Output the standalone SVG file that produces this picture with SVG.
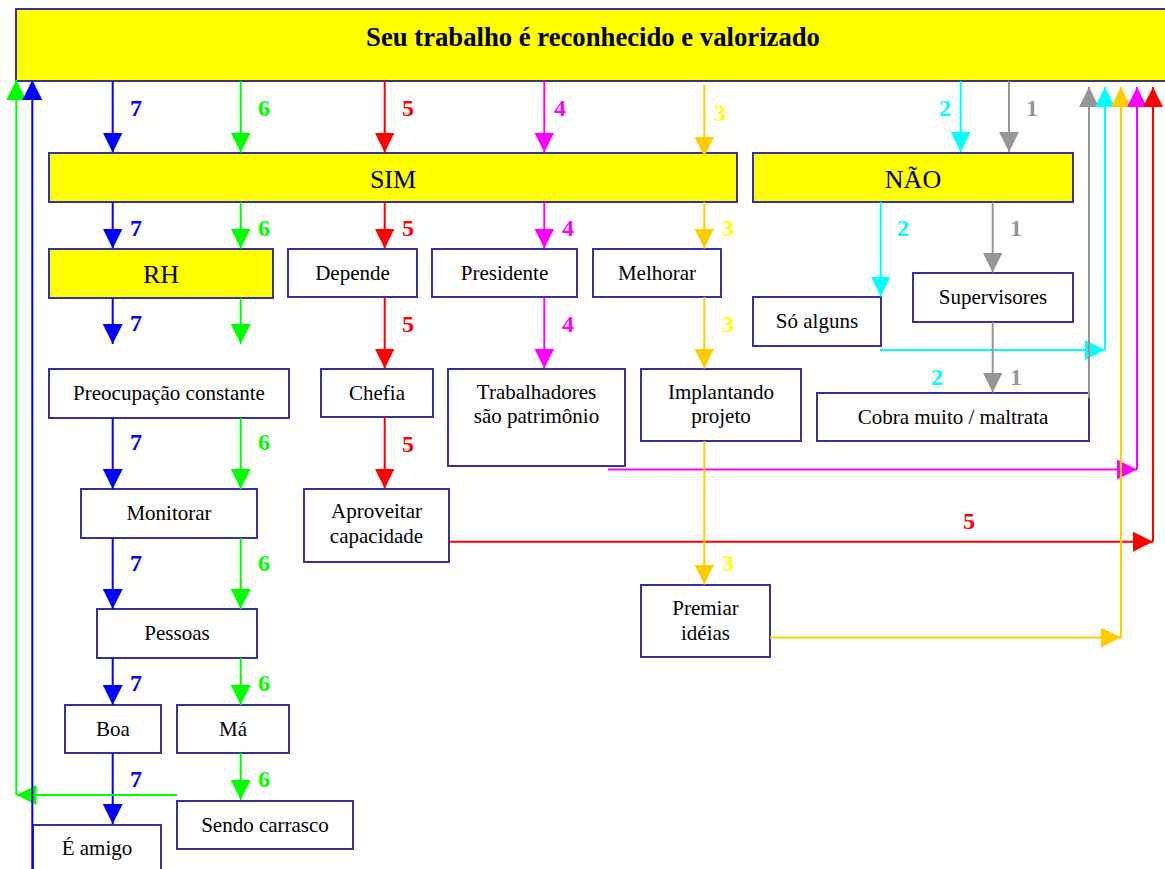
<svg xmlns="http://www.w3.org/2000/svg" width="1165" height="869" viewBox="0 0 1165 869">
  <style>
    .box { fill: #ffffff; stroke: #333399; stroke-width: 2; }
    .hl { fill: #ffff00; stroke: #333399; stroke-width: 2; }
    .t { font-family: "Liberation Serif", "Times New Roman", serif; font-size: 21px; fill: #000; text-anchor: middle; }
    .big { font-size: 26px; }
    .title { font-size: 26.7px; font-weight: bold; }
    .n { font-family: "Liberation Serif", "Times New Roman", serif; font-size: 24px; font-weight: bold; text-anchor: middle; }
    .c line, .c polyline { fill: none; stroke-width: 2; }
    .blue { stroke: #0000ff; } .green { stroke: #00ff00; } .red { stroke: #ff0000; }
    .mag { stroke: #ff00ff; } .orange { stroke: #ffcc00; } .cyan { stroke: #00ffff; } .gray { stroke: #969696; }
  </style>
  <defs>
    <marker id="aBlue" markerUnits="userSpaceOnUse" markerWidth="20" markerHeight="20" refX="20" refY="10" orient="auto"><path d="M0,0 L20,10 L0,20 Z" fill="#0000ff"/></marker>
    <marker id="aGreen" markerUnits="userSpaceOnUse" markerWidth="20" markerHeight="20" refX="20" refY="10" orient="auto"><path d="M0,0 L20,10 L0,20 Z" fill="#00ff00"/></marker>
    <marker id="aRed" markerUnits="userSpaceOnUse" markerWidth="20" markerHeight="20" refX="20" refY="10" orient="auto"><path d="M0,0 L20,10 L0,20 Z" fill="#ff0000"/></marker>
    <marker id="aMag" markerUnits="userSpaceOnUse" markerWidth="20" markerHeight="20" refX="20" refY="10" orient="auto"><path d="M0,0 L20,10 L0,20 Z" fill="#ff00ff"/></marker>
    <marker id="aOrange" markerUnits="userSpaceOnUse" markerWidth="20" markerHeight="20" refX="20" refY="10" orient="auto"><path d="M0,0 L20,10 L0,20 Z" fill="#ffcc00"/></marker>
    <marker id="aCyan" markerUnits="userSpaceOnUse" markerWidth="20" markerHeight="20" refX="20" refY="10" orient="auto"><path d="M0,0 L20,10 L0,20 Z" fill="#00ffff"/></marker>
    <marker id="aGray" markerUnits="userSpaceOnUse" markerWidth="20" markerHeight="20" refX="20" refY="10" orient="auto"><path d="M0,0 L20,10 L0,20 Z" fill="#969696"/></marker>
  </defs>

  <rect width="1165" height="869" fill="#ffffff"/>

  <!-- nodes -->
  <g id="n-titulo"><rect class="hl" x="16" y="9" width="1160" height="72"/><text class="t title" x="593" y="46">Seu trabalho é reconhecido e valorizado</text></g>
  <g id="n-sim"><rect class="hl" x="49" y="153" width="688" height="49"/><text class="t big" x="393" y="188">SIM</text></g>
  <g id="n-nao"><rect class="hl" x="753" y="153" width="320" height="49"/><text class="t big" x="913" y="188">NÃO</text></g>
  <g id="n-rh"><rect class="hl" x="49" y="249" width="224" height="49"/><text class="t big" x="161" y="283">RH</text></g>
  <g id="n-depende"><rect class="box" x="288" y="249" width="129" height="48"/><text class="t" x="352.5" y="280">Depende</text></g>
  <g id="n-presidente"><rect class="box" x="432" y="249" width="145" height="48"/><text class="t" x="504.5" y="280">Presidente</text></g>
  <g id="n-melhorar"><rect class="box" x="593" y="249" width="128" height="48"/><text class="t" x="657" y="280">Melhorar</text></g>
  <g id="n-supervisores"><rect class="box" x="913" y="273" width="160" height="49"/><text class="t" x="993" y="304">Supervisores</text></g>
  <g id="n-so-alguns"><rect class="box" x="753" y="297" width="128" height="49"/><text class="t" x="817" y="328">Só alguns</text></g>
  <g id="n-preocupacao"><rect class="box" x="49" y="369" width="240" height="49"/><text class="t" x="169" y="400">Preocupação constante</text></g>
  <g id="n-chefia"><rect class="box" x="321" y="369" width="112" height="48"/><text class="t" x="377" y="400">Chefia</text></g>
  <g id="n-trabalhadores"><rect class="box" x="448" y="369" width="177" height="97"/><text class="t" x="536.5" y="399">Trabalhadores</text><text class="t" x="536.5" y="423">são patrimônio</text></g>
  <g id="n-implantando"><rect class="box" x="641" y="369" width="160" height="72"/><text class="t" x="721" y="399">Implantando</text><text class="t" x="721" y="423">projeto</text></g>
  <g id="n-cobra"><rect class="box" x="817" y="393" width="272" height="48"/><text class="t" x="953" y="424">Cobra muito / maltrata</text></g>
  <g id="n-monitorar"><rect class="box" x="81" y="489" width="176" height="49"/><text class="t" x="169" y="520">Monitorar</text></g>
  <g id="n-aproveitar"><rect class="box" x="304" y="489" width="145" height="73"/><text class="t" x="376.5" y="518">Aproveitar</text><text class="t" x="376.5" y="543">capacidade</text></g>
  <g id="n-premiar"><rect class="box" x="641" y="585" width="129" height="72"/><text class="t" x="705.5" y="615">Premiar</text><text class="t" x="705.5" y="640">idéias</text></g>
  <g id="n-pessoas"><rect class="box" x="97" y="609" width="160" height="49"/><text class="t" x="177" y="640">Pessoas</text></g>
  <g id="n-boa"><rect class="box" x="65" y="705" width="96" height="48"/><text class="t" x="113" y="736">Boa</text></g>
  <g id="n-ma"><rect class="box" x="177" y="705" width="112" height="48"/><text class="t" x="233" y="736">Má</text></g>
  <g id="n-carrasco"><rect class="box" x="177" y="801" width="176" height="48"/><text class="t" x="265" y="832">Sendo carrasco</text></g>
  <g id="n-amigo"><rect class="box" x="33" y="825" width="128" height="60"/><text class="t" x="97" y="855">É amigo</text></g>

  <!-- connectors -->
  <g id="connectors" class="c">
    <!-- path 7 (blue) -->
    <line class="blue" x1="112.7" y1="81" x2="112.7" y2="152.5" marker-end="url(#aBlue)"/>
    <line class="blue" x1="112.7" y1="202" x2="112.7" y2="248.5" marker-end="url(#aBlue)"/>
    <line class="blue" x1="112.7" y1="298" x2="112.7" y2="344" marker-end="url(#aBlue)"/>
    <line class="blue" x1="112.7" y1="418" x2="112.7" y2="489" marker-end="url(#aBlue)"/>
    <line class="blue" x1="112.7" y1="538" x2="112.7" y2="609" marker-end="url(#aBlue)"/>
    <line class="blue" x1="112.7" y1="658" x2="112.7" y2="705" marker-end="url(#aBlue)"/>
    <line class="blue" x1="112.7" y1="753" x2="112.7" y2="824" marker-end="url(#aBlue)"/>
    <!-- path 6 (green) -->
    <line class="green" x1="240.7" y1="81" x2="240.7" y2="152.5" marker-end="url(#aGreen)"/>
    <line class="green" x1="240.7" y1="202" x2="240.7" y2="248.5" marker-end="url(#aGreen)"/>
    <line class="green" x1="240.7" y1="298" x2="240.7" y2="344" marker-end="url(#aGreen)"/>
    <line class="green" x1="240.7" y1="418" x2="240.7" y2="489" marker-end="url(#aGreen)"/>
    <line class="green" x1="240.7" y1="538" x2="240.7" y2="609" marker-end="url(#aGreen)"/>
    <line class="green" x1="240.7" y1="658" x2="240.7" y2="705" marker-end="url(#aGreen)"/>
    <line class="green" x1="240.7" y1="753" x2="240.7" y2="800" marker-end="url(#aGreen)"/>
    <!-- returns on the left -->
    <line class="green" x1="177" y1="795" x2="16.5" y2="795" marker-end="url(#aGreen)"/>
    <line class="green" x1="16.3" y1="795" x2="16.3" y2="80" marker-end="url(#aGreen)"/>
    <line class="blue" x1="32.3" y1="869" x2="32.3" y2="80" marker-end="url(#aBlue)"/>
    <!-- path 5 (red) -->
    <line class="red" x1="384.7" y1="81" x2="384.7" y2="152.5" marker-end="url(#aRed)"/>
    <line class="red" x1="384.7" y1="202" x2="384.7" y2="248.5" marker-end="url(#aRed)"/>
    <line class="red" x1="384.7" y1="297" x2="384.7" y2="368.5" marker-end="url(#aRed)"/>
    <line class="red" x1="384.7" y1="417" x2="384.7" y2="488.5" marker-end="url(#aRed)"/>
    <line class="red" x1="449" y1="541.7" x2="1153" y2="541.7" marker-end="url(#aRed)"/>
    <!-- path 4 (magenta) -->
    <line class="mag" x1="544.3" y1="81" x2="544.3" y2="152.5" marker-end="url(#aMag)"/>
    <line class="mag" x1="544.3" y1="202" x2="544.3" y2="248.5" marker-end="url(#aMag)"/>
    <line class="mag" x1="544.3" y1="297" x2="544.3" y2="368.5" marker-end="url(#aMag)"/>
    <line class="mag" x1="608" y1="469.5" x2="1137" y2="469.5" marker-end="url(#aMag)"/>
    <!-- path 3 (orange) -->
    <line class="orange" x1="704.3" y1="85" x2="704.3" y2="156.5" marker-end="url(#aOrange)"/>
    <line class="orange" x1="704.3" y1="202" x2="704.3" y2="248.5" marker-end="url(#aOrange)"/>
    <line class="orange" x1="704.3" y1="297" x2="704.3" y2="368.5" marker-end="url(#aOrange)"/>
    <line class="orange" x1="704.3" y1="441" x2="704.3" y2="584.5" marker-end="url(#aOrange)"/>
    <line class="orange" x1="770" y1="637.5" x2="1121" y2="637.5" marker-end="url(#aOrange)"/>
    <!-- path 2 (cyan) -->
    <line class="cyan" x1="960.7" y1="81" x2="960.7" y2="152" marker-end="url(#aCyan)"/>
    <line class="cyan" x1="880.7" y1="202" x2="880.7" y2="296.5" marker-end="url(#aCyan)"/>
    <line class="cyan" x1="880" y1="350" x2="1105" y2="350" marker-end="url(#aCyan)"/>
    <!-- path 1 (gray) -->
    <line class="gray" x1="1009" y1="81" x2="1009" y2="152" marker-end="url(#aGray)"/>
    <line class="gray" x1="992.7" y1="202" x2="992.7" y2="272.5" marker-end="url(#aGray)"/>
    <line class="gray" x1="992.7" y1="322" x2="992.7" y2="392.5" marker-end="url(#aGray)"/>
    <!-- returns on the right -->
    <line class="gray" x1="1089" y1="398" x2="1089" y2="87" marker-end="url(#aGray)"/>
    <line class="cyan" x1="1105" y1="350" x2="1105" y2="87" marker-end="url(#aCyan)"/>
    <line class="orange" x1="1121" y1="637.5" x2="1121" y2="87" marker-end="url(#aOrange)"/>
    <line class="mag" x1="1137" y1="469.5" x2="1137" y2="87" marker-end="url(#aMag)"/>
    <line class="red" x1="1153" y1="541.7" x2="1153" y2="87" marker-end="url(#aRed)"/>
  </g>

  <!-- path numbers -->
  <g id="labels">
    <g fill="#0000ff">
      <text class="n" x="136" y="116">7</text><text class="n" x="136" y="236">7</text><text class="n" x="136" y="331">7</text>
      <text class="n" x="136" y="450">7</text><text class="n" x="136" y="571">7</text><text class="n" x="136" y="691">7</text><text class="n" x="136" y="787">7</text>
    </g>
    <g fill="#00ff00">
      <text class="n" x="264" y="116">6</text><text class="n" x="264" y="236">6</text>
      <text class="n" x="264" y="450">6</text><text class="n" x="264" y="571">6</text><text class="n" x="264" y="691">6</text><text class="n" x="264" y="787">6</text>
    </g>
    <g fill="#ff0000">
      <text class="n" x="408" y="116">5</text><text class="n" x="408" y="236">5</text><text class="n" x="408" y="332">5</text><text class="n" x="408" y="452">5</text>
      <text class="n" x="969" y="529">5</text>
    </g>
    <g fill="#ff00ff">
      <text class="n" x="560" y="116">4</text><text class="n" x="568" y="236">4</text><text class="n" x="568" y="332">4</text>
    </g>
    <g fill="#ffff00">
      <text class="n" x="720" y="121">3</text><text class="n" x="728" y="236">3</text><text class="n" x="728" y="332">3</text><text class="n" x="728" y="571">3</text>
    </g>
    <g fill="#00ffff">
      <text class="n" x="945" y="116">2</text><text class="n" x="903" y="236">2</text><text class="n" x="937" y="385">2</text>
    </g>
    <g fill="#969696">
      <text class="n" x="1032" y="116">1</text><text class="n" x="1016" y="236">1</text><text class="n" x="1016" y="385">1</text>
    </g>
  </g>
</svg>
